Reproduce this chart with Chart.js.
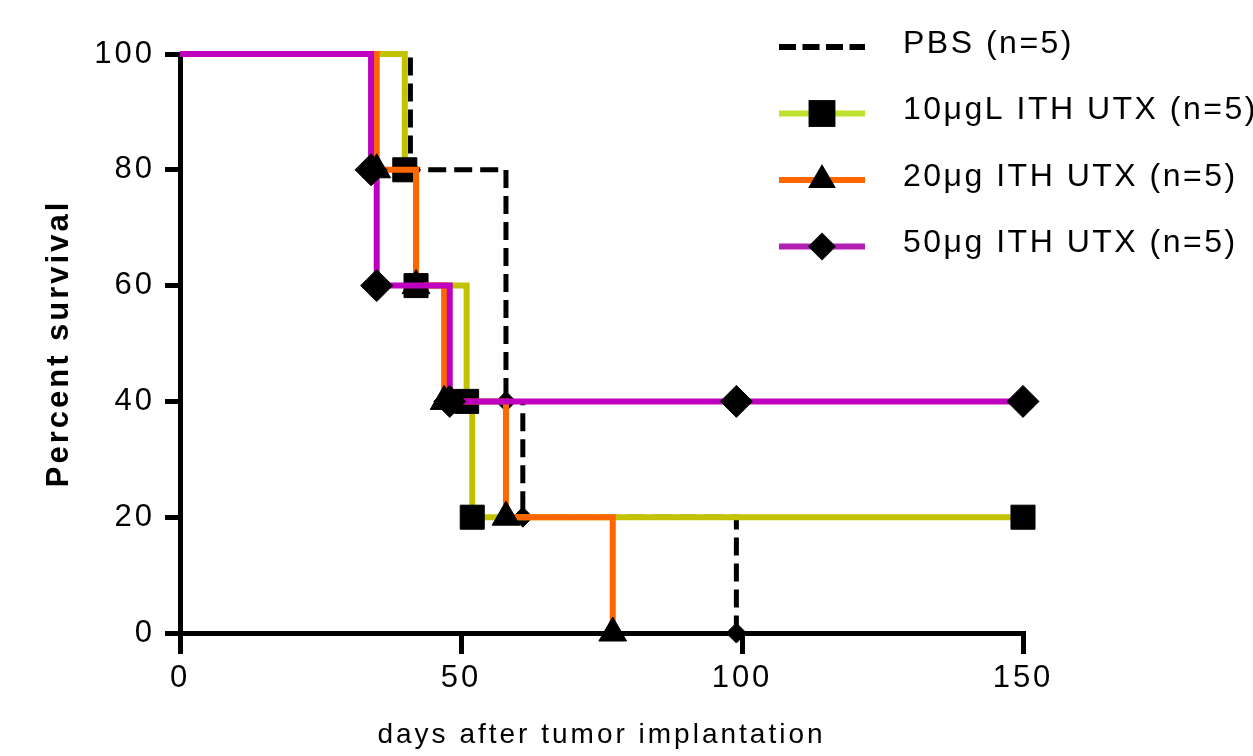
<!DOCTYPE html>
<html><head><meta charset="utf-8">
<script src="https://cdn.jsdelivr.net/npm/chart.js@4/dist/chart.umd.min.js"></script>
<style>html,body{margin:0;padding:0;background:#fff}#wrap{width:1253px;height:756px;position:relative}</style>
</head><body><div id="wrap"><canvas id="c"></canvas></div>
<script>
const seriesLabels = ['PBS (n=5)', '10μgL ITH UTX (n=5)', '20μg ITH UTX (n=5)', '50μg ITH UTX (n=5)'];
const pbsDays = [0, 41, 58, 61, 99];
const pbsSurvival = [100, 80, 40, 20, 0];
const ug10Days = [0, 40, 42, 51, 52, 150];
const ug10Survival = [100, 80, 60, 40, 20, 20];
const ug20Days = [0, 35, 42, 47, 58, 77];
const ug20Survival = [100, 80, 60, 40, 20, 0];
const ug50Days = [0, 34, 35, 48, 99, 150];
const ug50Survival = [100, 80, 60, 40, 40, 40];
const xTickValues = [0, 50, 100, 150];
const yTickValues = [0, 20, 40, 60, 80, 100];
const xTitle = 'days after tumor implantation';
const yTitle = 'Percent survival';

const FONT = '"Liberation Sans", Arial, sans-serif';
function pts(d, s) { return d.map((x, i) => ({x: x, y: s[i]})); }
function radii(n, r) { return Array.from({length: n}, (_, i) => i === 0 ? 0 : r); }

const spacingPlugin = {
  id: 'spacing',
  beforeDraw(chart) { chart.ctx.letterSpacing = '3px'; }
};

function drawMarker(ctx, style, x, y, r) {
  ctx.beginPath();
  if (style === 'rect') {
    const h = r * Math.SQRT1_2;
    ctx.rect(x - h, y - h, 2 * h, 2 * h);
  } else if (style === 'triangle') {
    ctx.moveTo(x, y - r);
    ctx.lineTo(x + r * Math.sin(2 * Math.PI / 3), y - r * Math.cos(2 * Math.PI / 3));
    ctx.lineTo(x + r * Math.sin(4 * Math.PI / 3), y - r * Math.cos(4 * Math.PI / 3));
    ctx.closePath();
  } else if (style === 'rectRot') {
    ctx.moveTo(x - r, y); ctx.lineTo(x, y - r); ctx.lineTo(x + r, y); ctx.lineTo(x, y + r);
    ctx.closePath();
  }
  ctx.fillStyle = '#000';
  ctx.fill();
}

const legendPlugin = {
  id: 'customLegend',
  afterDraw(chart) {
    const ctx = chart.ctx;
    ctx.save();
    const x0 = 779, x1 = 865, xm = 822, tx = 903, y0 = 47, dy = 66.5;
    chart.data.datasets.forEach((ds, i) => {
      const y = y0 + i * dy;
      ctx.beginPath();
      ctx.lineWidth = 6;
      ctx.lineCap = 'butt';
      ctx.strokeStyle = ds.legendColor;
      ctx.setLineDash(ds.legendDash || []);
      ctx.moveTo(x0, y); ctx.lineTo(x1, y);
      ctx.stroke();
      ctx.setLineDash([]);
      if (ds.legendMarker) drawMarker(ctx, ds.legendMarker, xm, y, ds.legendMarkerSize);
      ctx.font = '32px ' + FONT;
      ctx.letterSpacing = '2.5px';
      ctx.fillStyle = '#000';
      ctx.textAlign = 'left';
      ctx.textBaseline = 'middle';
      ctx.fillText(ds.label, tx, y - 3);
    });
    ctx.restore();
  }
};

const common = {stepped: 'before', borderWidth: 6, borderCapStyle: 'butt', borderJoinStyle: 'miter',
  pointBackgroundColor: '#000', pointBorderColor: '#000', pointBorderWidth: 1, clip: false, fill: false};

new Chart(document.getElementById('c'), {
  type: 'line',
  data: {
    datasets: [
      Object.assign({}, common, {label: seriesLabels[0], data: pts(pbsDays, pbsSurvival), order: 4,
        borderColor: '#000', borderWidth: 5, borderDash: [18, 8], pointStyle: 'rectRot', pointRadius: radii(pbsDays.length, 10),
        legendColor: '#000', legendDash: [17, 6.5], legendMarker: null}),
      Object.assign({}, common, {label: seriesLabels[1], data: pts(ug10Days, ug10Survival), order: 3,
        borderColor: '#C2C200', pointStyle: 'rect', pointRadius: radii(ug10Days.length, 17),
        legendColor: '#BDE12E', legendMarker: 'rect', legendMarkerSize: 19}),
      Object.assign({}, common, {label: seriesLabels[2], data: pts(ug20Days, ug20Survival), order: 2,
        borderColor: '#FF6600', pointStyle: 'triangle', pointRadius: radii(ug20Days.length, 16),
        legendColor: '#FF6600', legendMarker: 'triangle', legendMarkerSize: 16}),
      Object.assign({}, common, {label: seriesLabels[3], data: pts(ug50Days, ug50Survival), order: 1,
        borderColor: '#C000C0', pointStyle: 'rectRot', pointRadius: radii(ug50Days.length, 16),
        legendColor: '#B31FB3', legendMarker: 'rectRot', legendMarkerSize: 14})
    ]
  },
  options: {
    responsive: true, maintainAspectRatio: false, animation: false,
    layout: {padding: {top: 54, right: 230, left: 0, bottom: 0}, autoPadding: false},
    plugins: {legend: {display: false}, tooltip: {enabled: false}},
    scales: {
      x: {
        type: 'linear', min: 0, max: 150,
        afterBuildTicks: s => { s.ticks = xTickValues.map(v => ({value: v})); },
        afterFit: s => { s.height = 123; },
        grid: {drawOnChartArea: false, drawTicks: true, tickLength: 21, lineWidth: 5, color: '#000'},
        border: {display: true, width: 5, color: '#000'},
        ticks: {color: '#000', font: {family: FONT, size: 31}, padding: 6, maxRotation: 0, autoSkip: false},
        title: {display: true, text: xTitle, color: '#000', font: {family: FONT, size: 28}, padding: {top: 0, bottom: 4}}
      },
      y: {
        min: 0, max: 100,
        afterBuildTicks: s => { s.ticks = yTickValues.map(v => ({value: v})); },
        afterFit: s => { s.width = 180; },
        grid: {drawOnChartArea: false, drawTicks: true, tickLength: 15, lineWidth: 5, color: '#000'},
        border: {display: true, width: 5, color: '#000'},
        ticks: {color: '#000', font: {family: FONT, size: 31}, padding: 10},
        title: {display: true, text: yTitle, color: '#000', font: {family: FONT, size: 31, weight: 'bold'}, padding: {top: 41, bottom: 0}}
      }
    }
  },
  plugins: [spacingPlugin, legendPlugin]
});
</script></body></html>
